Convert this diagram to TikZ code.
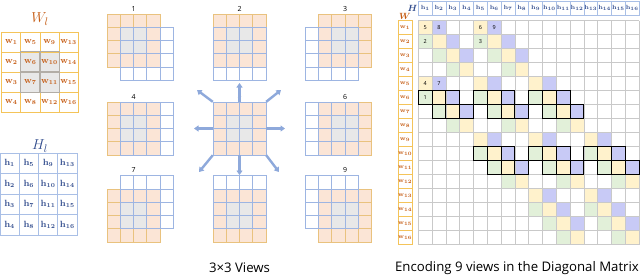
\documentclass[tikz,border=0pt]{standalone}
\usepackage{amsmath,amssymb}
\usepackage{fontspec}
\newfontfamily\capfont{Open Sans}
\usetikzlibrary{arrows.meta, positioning, calc}
\definecolor{wgold}{HTML}{F4C45A}
\definecolor{wingold}{HTML}{E9C27E}
\definecolor{wtext}{HTML}{C55A11}
\definecolor{hline}{HTML}{A9BFE6}
\definecolor{htext}{HTML}{2F4A8C}
\definecolor{peach}{HTML}{FBE5D6}
\definecolor{lgray}{HTML}{E8E8E8}
\definecolor{midgray}{HTML}{B2ADA6}
\definecolor{vblue}{HTML}{9DB5E2}
\definecolor{spokeblue}{HTML}{8EA9DB}
\definecolor{cgreen}{HTML}{E2F0D9}
\definecolor{cyellow}{HTML}{FFF2CC}
\definecolor{cpurple}{HTML}{C8CAF6}
\definecolor{gridgray}{HTML}{C9C9C9}

\begin{document}
\begin{tikzpicture}[x=1pt, y=-1pt, >={Triangle[length=4.5pt, width=6pt]},
  wcell/.style={draw=wgold, line width=0.7pt, minimum width=19.1pt, minimum height=20pt, inner sep=0pt, text=wtext, font=\boldmath\fontsize{9}{10}\selectfont},
  hcell/.style={draw=hline, line width=0.7pt, minimum width=19.25pt, minimum height=20.5pt, inner sep=0pt, text=htext, font=\boldmath\fontsize{9}{10}\selectfont},
  hhead/.style={draw=hline, line width=0.6pt, minimum width=13.8pt, minimum height=13.3pt, inner sep=0pt, text=htext, font=\boldmath\fontsize{5.6}{6}\selectfont},
  whead/.style={draw=wgold, line width=0.6pt, minimum width=13.4pt, minimum height=14pt, inner sep=0pt, text=wtext, font=\boldmath\fontsize{5.6}{6}\selectfont},
  wincell/.style={fill=peach, draw=wingold, line width=0.6pt},
  wincore/.style={fill=lgray, draw=midgray, line width=0.6pt},
  bluecell/.style={draw=vblue, line width=0.7pt},
  viewbox/.style={minimum size=53pt, inner sep=0pt},
  viewnum/.style={font=\capfont\fontsize{7}{8}\selectfont, inner sep=0pt},
  spoke/.style={->, spokeblue, line width=2.4pt},
  gridline/.style={gridgray, line width=0.6pt},
  boldcell/.style={draw=black, line width=1.1pt},
  cellnum/.style={font=\capfont\fontsize{5.5}{6}\selectfont, inner sep=0pt},
  caption/.style={font=\capfont\fontsize{13.2}{15}\selectfont, inner sep=0pt}
]

% Background
\fill[white] (0,0) rectangle (640,277);
\useasboundingbox (0,0) rectangle (640,277);

% Weight grid W_l
\node[text=wtext, font=\fontsize{15}{16}\selectfont] (Wl) at (40,19) {$W_l$};
\foreach \ci in {0,...,3} \foreach \ri in {0,...,3} {
  \pgfmathtruncatemacro\idx{4*\ci+\ri+1}
  \pgfmathtruncatemacro\core{(\ci>0)*(\ci<3)*(\ri>0)*(\ri<3)}
  \ifnum\core=1 \def\fc{lgray}\else\def\fc{white}\fi
  \node[wcell, fill=\fc] (wl\idx) at ({11.25+19.1*\ci},{42+20*\ri}) {$\mathbf{w}_{\idx}$};
}
\foreach \idx in {6,7,10,11}
  \draw[midgray, line width=0.7pt] (wl\idx.north west) rectangle (wl\idx.south east);

% Feature grid H_l
\node[text=htext, font=\fontsize{15}{16}\selectfont] (Hl) at (40,146) {$H_l$};
\foreach \ci in {0,...,3} \foreach \ri in {0,...,3} {
  \pgfmathtruncatemacro\idx{4*\ci+\ri+1}
  \node[hcell] (hl\idx) at ({9.6+19.25*\ci},{163.25+20.5*\ri}) {$\mathbf{h}_{\idx}$};
}

% 3x3 shifted views
\foreach \vn/\vx/\vy/\bx/\by in {1/107/14/1/1, 2/213/14/0/1, 3/318.5/14/-1/1,
                                4/107/102/1/0, 5/213/102/0/0, 6/318.5/102/-1/0,
                                7/107/189/1/-1, 8/213/189/0/-1, 9/318.5/189/-1/-1} {
  \foreach \ci in {0,...,3} \foreach \ri in {0,...,3}
    \draw[wincell] ({\vx+13.25*\ci},{\vy+13.25*\ri}) rectangle ++(13.25,13.25);
  \foreach \ci in {1,2} \foreach \ri in {1,2}
    \draw[wincore] ({\vx+13.25*\ci},{\vy+13.25*\ri}) rectangle ++(13.25,13.25);
  \node[viewbox] (view\vn) at ({\vx+26.5},{\vy+26.5}) {};
  \foreach \ci in {0,...,3} \foreach \ri in {0,...,3}
    \draw[bluecell] ({\vx+13.25*(\ci+(\bx))},{\vy+13.25*(\ri+(\by))}) rectangle ++(13.25,13.25);
  \pgfmathsetmacro\ty{\vy+13.25*min(0,\by)-5.5}
  \node[viewnum] (num\vn) at ({\vx+26.5},\ty) {\vn};
}

% Spokes from the centre view
\coordinate (tipN) at (239.5,83);
\coordinate (tipS) at (239.5,175);
\coordinate (tipW) at (194,128.5);
\coordinate (tipE) at (285,128.5);
\coordinate (tipNW) at (197,90);
\coordinate (tipNE) at (281,90);
\coordinate (tipSW) at (199,172);
\coordinate (tipSE) at (279,172);
\foreach \an/\tp in {north/tipN, south/tipS, west/tipW, east/tipE,
                     north west/tipNW, north east/tipNE, south west/tipSW, south east/tipSE}
  \draw[spoke] (view5.\an) -- (\tp);

% Matrix headers
\node[text=htext, font=\fontsize{9}{10}\selectfont] (Hhead) at (412.5,8) {$\boldsymbol{H}$};
\foreach \hj in {1,...,16}
  \node[hhead] (h\hj) at ({418.3+13.8*(\hj-0.5)},8.3) {$\mathbf{h}_{\hj}$};
\node[text=wtext, font=\fontsize{9}{10}\selectfont] (Whead) at (405,16) {$\boldsymbol{W}$};
\foreach \wi in {1,...,16}
  \node[whead] (w\wi) at (405.1,{20.7+14*(\wi-0.5)}) {$\mathbf{w}_{\wi}$};

% Diagonal band cells
\foreach \pc in {0,...,3} \foreach \pr in {0,...,3} \foreach \dc in {-1,0,1}
  \foreach \dr/\tone in {-1/cgreen, 0/cyellow, 1/cpurple} {
  \pgfmathtruncatemacro\rr{\pr+(\dr)}
  \pgfmathtruncatemacro\cc{\pc+(\dc)}
  \pgfmathtruncatemacro\ok{(\rr>-1)*(\rr<4)*(\cc>-1)*(\cc<4)}
  \ifnum\ok=1
    \pgfmathtruncatemacro\wi{4*\pc+\pr}
    \pgfmathtruncatemacro\hj{4*\cc+\rr}
    \fill[\tone] ({418.3+13.8*\hj},{20.7+14*\wi}) rectangle ++(13.8,14);
  \fi
}

% Grid lines
\foreach \k in {0,...,16} {
  \draw[gridline] ({418.3+13.8*\k},20.7) -- ({418.3+13.8*\k},244.7);
  \draw[gridline] (418.3,{20.7+14*\k}) -- (639.1,{20.7+14*\k});
}

% Inner positions in bold
\foreach \pc in {1,2} \foreach \pr in {1,2} \foreach \dc in {-1,0,1} \foreach \dr in {-1,0,1} {
  \pgfmathtruncatemacro\wi{4*\pc+\pr}
  \pgfmathtruncatemacro\hj{4*(\pc+(\dc))+\pr+(\dr)}
  \draw[boldcell] ({418.3+13.8*\hj},{20.7+14*\wi}) rectangle ++(13.8,14);
}

% View numbers in the matrix
\foreach \wi/\hj/\vn in {0/0/5, 0/1/8, 0/4/6, 0/5/9, 1/0/2, 1/4/3, 4/0/4, 4/1/7, 5/0/1}
  \node[cellnum] (cell\vn) at ({418.3+13.8*(\hj+0.5)},{20.7+14*(\wi+0.5)}) {\vn};

% Captions
\node[caption] (capViews) at (239.5,268) {3×3 Views};
\node[caption] (capMatrix) at (517,268) {Encoding 9 views in the Diagonal Matrix};

\end{tikzpicture}
\end{document}
